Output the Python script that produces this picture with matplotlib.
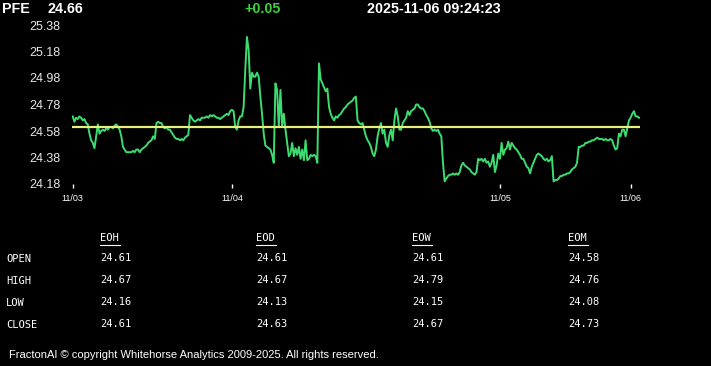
import numpy as np
import matplotlib.pyplot as plt
from matplotlib.lines import Line2D

# header
symbol = 'PFE'
last_price = '24.66'
change = '+0.05'
stamp = '2025-11-06 09:24:23'

# intraday prices, one list per session day
prices_1103 = [
    24.69, 24.65, 24.68, 24.67, 24.69, 24.68, 24.66, 24.67, 24.64, 24.63,
    24.56, 24.51, 24.49, 24.45, 24.54, 24.63, 24.56, 24.58, 24.59, 24.58,
    24.60, 24.59, 24.61, 24.61, 24.60, 24.62, 24.63, 24.61, 24.59, 24.54,
    24.46, 24.44, 24.42, 24.42, 24.42, 24.42, 24.43, 24.42, 24.44, 24.44,
    24.42, 24.44, 24.45, 24.46, 24.47, 24.49, 24.50, 24.51, 24.54, 24.52,
    24.64, 24.65, 24.64, 24.64, 24.61, 24.60, 24.61, 24.59, 24.59, 24.57,
    24.55, 24.53, 24.52, 24.52, 24.51, 24.52, 24.51, 24.53, 24.54, 24.55,
    24.70, 24.68, 24.66, 24.65, 24.66, 24.67, 24.66, 24.68, 24.68, 24.68,
    24.69, 24.68, 24.70, 24.69, 24.70, 24.69, 24.68,
    24.68, 24.67, 24.68, 24.69, 24.70, 24.71, 24.70, 24.73,
]
prices_1104 = [
    24.74, 24.73, 24.61, 24.59, 24.66, 24.69, 24.69, 24.76, 25.04, 25.29,
    25.19, 24.90, 25.02, 24.99, 24.99, 25.02, 24.99, 24.84, 24.71, 24.56,
    24.47, 24.46, 24.45, 24.44, 24.40, 24.34, 24.94, 24.89, 24.61, 24.89,
    24.61, 24.71, 24.59, 24.49, 24.39, 24.41, 24.49, 24.39, 24.45, 24.40,
    24.46, 24.37, 24.44, 24.36, 24.51, 24.36, 24.37, 24.40, 24.39, 24.40,
    24.39, 24.34, 25.09, 24.97, 24.94, 24.91, 24.88, 24.90, 24.76, 24.71,
    24.68, 24.66, 24.69, 24.68, 24.70, 24.71, 24.73, 24.75, 24.76, 24.78,
    24.79, 24.80, 24.81, 24.83,
    24.84, 24.66, 24.64, 24.63, 24.64, 24.59, 24.54, 24.51, 24.49, 24.46,
    24.41, 24.39, 24.44, 24.54, 24.60, 24.64, 24.56, 24.59, 24.49, 24.46,
    24.55, 24.59, 24.51, 24.66, 24.75, 24.69, 24.59, 24.59, 24.64, 24.66,
    24.68, 24.73, 24.70, 24.73, 24.74, 24.75, 24.78, 24.78, 24.76, 24.75,
    24.75, 24.73, 24.70, 24.68, 24.65, 24.60, 24.58, 24.59, 24.58, 24.59,
    24.56, 24.54, 24.34, 24.20, 24.22, 24.24, 24.25, 24.25, 24.26, 24.25,
    24.26, 24.25, 24.27, 24.32, 24.34, 24.32, 24.31, 24.30, 24.29, 24.27,
    24.26, 24.25, 24.27, 24.37, 24.36, 24.37, 24.35, 24.37, 24.34, 24.35,
    24.31, 24.34, 24.40, 24.27, 24.32, 24.41,
]
prices_1105 = [
    24.37, 24.49, 24.40, 24.44,
    24.45, 24.50, 24.44, 24.49, 24.47, 24.45, 24.44, 24.42, 24.40, 24.37,
    24.37, 24.34, 24.31, 24.30, 24.26, 24.31, 24.34, 24.37, 24.40, 24.41,
    24.40, 24.39, 24.37, 24.36, 24.37, 24.35, 24.36, 24.39, 24.20, 24.21,
    24.21, 24.22, 24.24, 24.24, 24.25, 24.25, 24.26, 24.26, 24.27, 24.29,
    24.30, 24.31, 24.34, 24.46, 24.46, 24.47, 24.47, 24.49, 24.49, 24.50,
    24.50, 24.51, 24.51, 24.52, 24.53, 24.52, 24.52, 24.52, 24.51, 24.52,
    24.51, 24.51, 24.52, 24.51, 24.47, 24.44, 24.45, 24.56, 24.54, 24.59,
    24.59, 24.54, 24.60, 24.66,
]
prices_1106 = [24.68, 24.71, 24.73, 24.69, 24.69, 24.68]
day_labels = ['11/03', '11/04', '11/05', '11/06']

ref_open = 24.61
y_ticks = [24.18, 24.38, 24.58, 24.78, 24.98, 25.18, 25.38]

# stats table
row_names = ['OPEN', 'HIGH', 'LOW', 'CLOSE']
col_names = ['EOH', 'EOD', 'EOW', 'EOM']
eoh = [24.61, 24.67, 24.16, 24.61]
eod = [24.61, 24.67, 24.13, 24.63]
eow = [24.61, 24.79, 24.15, 24.67]
eom = [24.58, 24.76, 24.08, 24.73]

days = [prices_1103, prices_1104, prices_1105, prices_1106]
prices = np.concatenate(days)
x = np.arange(len(prices))
day_start = np.cumsum([0] + [len(d) for d in days[:-1]])

W, H = 711, 366
fig = plt.figure(figsize=(W / 100, H / 100), dpi=100, facecolor='black')
ax = fig.add_axes([71.7 / W, 1 - 184 / H, 567.8 / W, 159 / H])
ax.set_facecolor('black')

ax.plot(x, prices, color='#3ddc70', lw=1.4)
ax.axhline(ref_open, color='#e8f07c', lw=1.6)

ax.set_xlim(-0.6, len(prices) - 0.7)
ax.set_ylim(y_ticks[0], y_ticks[-1])
ax.set_yticks(y_ticks)
ax.set_yticklabels(['%.2f' % v for v in y_ticks])
ax.set_xticks(day_start)
ax.set_xticklabels(day_labels)
ax.tick_params(axis='y', length=0, pad=8, labelsize=9, labelcolor='#e8e8e8')
ax.tick_params(axis='x', length=3, width=1, color='white', pad=4,
               labelsize=6.5, labelcolor='white')
for lab in ax.get_xticklabels() + ax.get_yticklabels():
    lab.set_family('Liberation Sans')
for s in ax.spines.values():
    s.set_visible(False)

sans = 'Liberation Sans'
hy = 1 - 9 / H
fig.text(2 / W, hy, symbol, color='white', fontsize=10.3, fontweight='bold', family=sans, va='center')
fig.text(48 / W, hy, last_price, color='white', fontsize=10.3, fontweight='bold', family=sans, va='center')
fig.text(244 / W, hy, change, color='#3ccf3c', fontsize=10.3, fontweight='bold', family=sans, va='center')
fig.text(367 / W, hy, stamp, color='white', fontsize=10.3, fontweight='bold', family=sans, va='center')

# table
mono = 'DejaVu Sans Mono'
col_x = [100, 256, 412, 568]
row_y = [259, 281, 303, 325]
cols = [eoh, eod, eow, eom]
for cx, name, vals in zip(col_x, col_names, cols):
    fig.text(cx / W, 1 - 238 / H, name, color='white', fontsize=7.5, family=mono, va='center')
    fig.add_artist(Line2D([cx / W, (cx + 20) / W], [1 - 244.5 / H, 1 - 244.5 / H],
                          color='white', lw=0.8, transform=fig.transFigure))
    for ry, v in zip(row_y, vals):
        fig.text(cx / W, 1 - (ry - 1) / H, '%.2f' % v, color='white', fontsize=7.5, family=mono, va='center')
for ry, name in zip(row_y, row_names):
    fig.text(6 / W, 1 - ry / H, name, color='white', fontsize=7.5, family=mono, va='center')

fig.text(9 / W, 1 - 355 / H, 'FractonAI \u00a9 copyright Whitehorse Analytics 2009-2025. All rights reserved.',
         color='white', fontsize=8, family=sans, va='center')

fig.savefig('out.png', dpi=100, facecolor='black')
